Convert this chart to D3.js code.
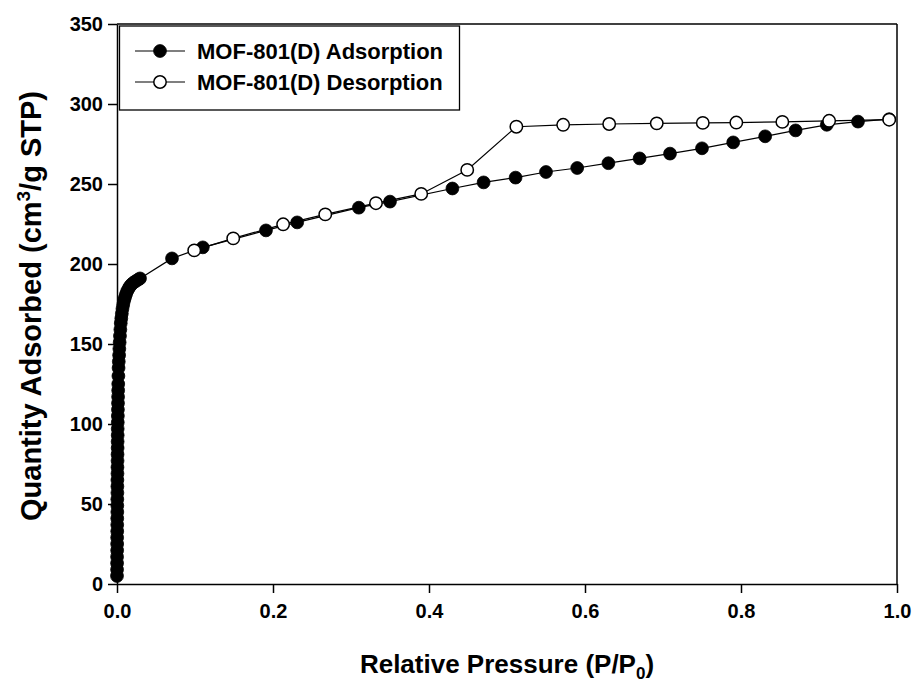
<!DOCTYPE html>
<html>
<head>
<meta charset="utf-8">
<script src="https://cdn.jsdelivr.net/npm/d3@7"></script>
<style>
  body { margin: 0; background: #fff; }
  svg { display: block; }
  text { font-family: "Liberation Sans", Arial, sans-serif; font-weight: bold; fill: #000; }
</style>
</head>
<body>
<svg id="chart" width="917" height="682"></svg>
<script>
// ---- Data ----
const adsorptionP = [
  0.0000, 0.0001, 0.0001, 0.0001, 0.0002, 0.0002, 0.0002, 0.0003, 0.0003, 0.0003,
  0.0004, 0.0004, 0.0004, 0.0005, 0.0005, 0.0005, 0.0006, 0.0006, 0.0007, 0.0007,
  0.0008, 0.0008, 0.0009, 0.0009, 0.0010, 0.0011, 0.0012, 0.0013, 0.0014, 0.0015,
  0.0016, 0.0018, 0.0020, 0.0023, 0.0027, 0.0030, 0.0034, 0.0038, 0.0043, 0.0048,
  0.0055, 0.0062, 0.0070, 0.0080, 0.0090, 0.0102, 0.0115, 0.0130, 0.0147, 0.0165,
  0.0185, 0.0210, 0.0240, 0.0270, 0.0295,
  0.0705, 0.110, 0.191, 0.231, 0.310, 0.350, 0.430, 0.470, 0.511, 0.550,
  0.590, 0.630, 0.670, 0.709, 0.750, 0.790, 0.831, 0.870, 0.910, 0.950, 0.990
];
const adsorptionQ = [
  5, 9, 13, 17, 21, 25, 29, 33, 37, 41,
  45, 49, 53, 57, 61, 65, 69, 73, 77, 81,
  85, 89, 93, 97, 101, 105, 109, 113, 117, 121,
  125, 130, 135, 139, 143, 147, 151, 155, 159, 163,
  166, 169, 172, 174.5, 177, 179, 181, 183, 184.5, 186,
  187.2, 188.3, 189.3, 190.2, 191,
  203.5, 210.4, 221, 226, 235.2, 239, 247.2, 251, 254, 257.5,
  260, 263, 266, 269, 272.3, 276, 279.8, 283.5, 287, 289, 290.5
];
const desorptionP = [
  0.990, 0.913, 0.853, 0.794, 0.751, 0.692, 0.631, 0.572, 0.512, 0.449,
  0.390, 0.332, 0.267, 0.213, 0.149, 0.099
];
const desorptionQ = [
  290.2, 289.5, 288.8, 288.4, 288.2, 287.9, 287.5, 287.0, 285.8, 258.8,
  243.8, 238, 231, 224.8, 216, 208.5
];
const xTicks = [0, 0.2, 0.4, 0.6, 0.8, 1.0];
const yTicks = [0, 50, 100, 150, 200, 250, 300, 350];
const seriesNames = ["MOF-801(D) Adsorption", "MOF-801(D) Desorption"];

// ---- Chart ----
const svg = d3.select("#chart");
const x = d3.scaleLinear().domain([0, 1]).range([117, 897]);
const y = d3.scaleLinear().domain([0, 350]).range([584, 24]);

const ads = adsorptionP.map((p, i) => ({ p, q: adsorptionQ[i] }));
const des = desorptionP.map((p, i) => ({ p, q: desorptionQ[i] }));

// frame top & right
svg.append("line").attr("x1", x(0)).attr("x2", x(1)).attr("y1", y(350)).attr("y2", y(350))
  .attr("stroke", "#000").attr("stroke-width", 1.5);
svg.append("line").attr("x1", x(1)).attr("x2", x(1)).attr("y1", y(350)).attr("y2", y(0))
  .attr("stroke", "#000").attr("stroke-width", 1.5);

// axes
const xAxis = svg.append("g").attr("transform", `translate(0,${y(0)})`)
  .call(d3.axisBottom(x).tickValues(xTicks).tickFormat(d3.format(".1f")).tickSize(9).tickPadding(11).tickSizeOuter(0));
const yAxis = svg.append("g").attr("transform", `translate(${x(0)},0)`)
  .call(d3.axisLeft(y).tickValues(yTicks).tickSize(9).tickPadding(5).tickSizeOuter(0));
[xAxis, yAxis].forEach(g => {
  g.select(".domain").attr("stroke", "#000").attr("stroke-width", 1.5);
  g.selectAll(".tick line").attr("stroke", "#000").attr("stroke-width", 1.5);
  g.selectAll(".tick text").attr("font-size", 20).attr("font-family", "Liberation Sans, Arial, sans-serif")
    .attr("font-weight", "bold").attr("fill", "#000");
});

// lines
const line = d3.line().x(d => x(d.p)).y(d => y(d.q));
svg.append("path").datum(ads).attr("d", line).attr("fill", "none").attr("stroke", "#000").attr("stroke-width", 1.2);
svg.append("path").datum(des).attr("d", line).attr("fill", "none").attr("stroke", "#000").attr("stroke-width", 1.2);

// markers
svg.append("g").selectAll("circle").data(ads).join("circle")
  .attr("cx", d => x(d.p)).attr("cy", d => y(d.q)).attr("r", 6.4)
  .attr("fill", "#000").attr("stroke", "#000").attr("stroke-width", 0.8);
svg.append("g").selectAll("circle").data(des).join("circle")
  .attr("cx", d => x(d.p)).attr("cy", d => y(d.q)).attr("r", 6.2)
  .attr("fill", "#fff").attr("stroke", "#000").attr("stroke-width", 1.5);

// legend
const lg = svg.append("g");
lg.append("rect").attr("x", 119.5).attr("y", 26).attr("width", 340).attr("height", 84)
  .attr("fill", "#fff").attr("stroke", "#000").attr("stroke-width", 1.3);
const rows = [{ fill: "#000", sw: 0.8, r: 6.4 }, { fill: "#fff", sw: 1.5, r: 6.2 }];
rows.forEach((s, i) => {
  const cy = 51 + i * 31;
  lg.append("line").attr("x1", 135).attr("x2", 185).attr("y1", cy).attr("y2", cy)
    .attr("stroke", "#000").attr("stroke-width", 1.2);
  lg.append("circle").attr("cx", 160).attr("cy", cy).attr("r", s.r)
    .attr("fill", s.fill).attr("stroke", "#000").attr("stroke-width", s.sw);
  lg.append("text").attr("x", 197).attr("y", cy).attr("dy", "0.36em")
    .attr("font-size", 22).text(seriesNames[i]);
});

// axis titles
const xt = svg.append("text").attr("x", 507).attr("y", 673).attr("text-anchor", "middle").attr("font-size", 26);
xt.append("tspan").text("Relative Pressure (P/P");
xt.append("tspan").attr("font-size", 17).attr("dy", 6).text("0");
xt.append("tspan").attr("dy", -6).text(")");

const yt = svg.append("text").attr("transform", "translate(41,306) rotate(-90)")
  .attr("text-anchor", "middle").attr("font-size", 29);
yt.append("tspan").text("Quantity Adsorbed (cm");
yt.append("tspan").attr("font-size", 19).attr("dy", -11).text("3");
yt.append("tspan").attr("dy", 11).text("/g STP)");
</script>
</body>
</html>
